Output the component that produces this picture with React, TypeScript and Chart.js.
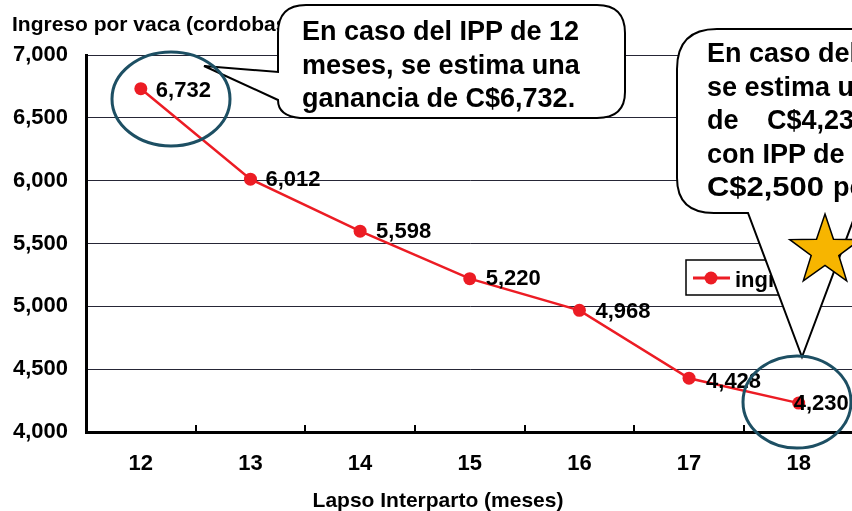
import React, { useEffect, useRef } from 'react';
import { Chart, registerables } from 'chart.js';

Chart.register(...registerables);

// ---- data ----
const categories = ['12', '13', '14', '15', '16', '17', '18'];
const ingresoPorVaca = [6732, 6012, 5598, 5220, 4968, 4428, 4230];
const yTickValues = [4000, 4500, 5000, 5500, 6000, 6500, 7000];
const seriesLabel = 'ingreso por vaca';
const yTitle = 'Ingreso por vaca (cordobas)';
const xTitle = 'Lapso Interparto (meses)';
const callout1Lines = ['En caso del IPP de 12', 'meses, se estima una', 'ganancia de C$6,732.'];
const callout2Lines = ['En caso del IPP de 18 meses,', 'se estima una ganancia', 'C$4,230, es decir', 'con IPP de 18 meses pierde', 'C$2,500', 'por vaca.'];

const FONT = "'Liberation Sans', Arial, Helvetica, sans-serif";
const RED = '#ec1c24';
const labelDx = [15, 15, 16, 16, 16, 17, -5];
const labelDy = [2, 1, 1, 0, 2, 4, 1];

const fmt = (v: number) => v.toLocaleString('en-US');

const dataLabelPlugin = {
  id: 'dataLabelPlugin',
  afterDatasetsDraw(chart: any) {
    const ctx = chart.ctx;
    const meta = chart.getDatasetMeta(0);
    const ds = chart.data.datasets[0];
    ctx.save();
    ctx.font = `bold 22px ${FONT}`;
    ctx.fillStyle = '#000';
    ctx.textAlign = 'left';
    ctx.textBaseline = 'middle';
    meta.data.forEach((pt: any, i: number) => {
      ctx.fillText(fmt(ds.data[i] as number), pt.x + labelDx[i], pt.y + labelDy[i]);
    });
    ctx.restore();
  },
};

const extrasPlugin = {
  id: 'extrasPlugin',
  afterDraw(chart: any) {
    const ctx = chart.ctx;
    const ds = chart.data.datasets[0];
    ctx.save();
    // axis titles
    ctx.fillStyle = '#000';
    ctx.textBaseline = 'alphabetic';
    ctx.textAlign = 'left';
    ctx.font = `bold 21px ${FONT}`;
    ctx.fillText(yTitle, 12, 31);
    ctx.textAlign = 'center';
    ctx.font = `bold 21px ${FONT}`;
    ctx.fillText(xTitle, 438, 507);
    // legend box (its right part is hidden by the callout pointer)
    const bx = 686, by = 260, bw = 104, bh = 35;
    ctx.fillStyle = '#fff';
    ctx.fillRect(bx, by, bw, bh);
    ctx.strokeStyle = '#000';
    ctx.lineWidth = 1.5;
    ctx.strokeRect(bx, by, bw, bh);
    ctx.strokeStyle = ds.borderColor;
    ctx.lineWidth = 3;
    ctx.beginPath();
    ctx.moveTo(693, 278);
    ctx.lineTo(730, 278);
    ctx.stroke();
    ctx.fillStyle = ds.pointBackgroundColor;
    ctx.beginPath();
    ctx.arc(711, 278, 6.5, 0, Math.PI * 2);
    ctx.fill();
    ctx.beginPath();
    ctx.rect(bx, by, bw, bh);
    ctx.clip();
    ctx.fillStyle = '#000';
    ctx.textAlign = 'left';
    ctx.font = `bold 22px ${FONT}`;
    ctx.fillText(ds.label, 735, 287);
    ctx.restore();
  },
};

function starPoints(cx: number, cy: number, R: number, r: number) {
  const pts: string[] = [];
  for (let i = 0; i < 10; i++) {
    const a = (-90 + i * 36) * (Math.PI / 180);
    const rad = i % 2 === 0 ? R : r;
    pts.push(`${(cx + rad * Math.cos(a)).toFixed(1)},${(cy + rad * Math.sin(a)).toFixed(1)}`);
  }
  return pts.join(' ');
}

export default function App() {
  const canvasRef = useRef<HTMLCanvasElement | null>(null);

  useEffect(() => {
    if (!canvasRef.current) return;
    const chart = new Chart(canvasRef.current, {
      type: 'line',
      data: {
        labels: categories,
        datasets: [
          {
            label: seriesLabel,
            data: ingresoPorVaca,
            borderColor: RED,
            backgroundColor: RED,
            pointBackgroundColor: RED,
            pointBorderColor: RED,
            pointBorderWidth: 0,
            pointRadius: 6.5,
            borderWidth: 2.5,
            tension: 0,
            clip: false as any,
          },
        ],
      },
      options: {
        animation: false,
        responsive: false,
        devicePixelRatio: 1,
        layout: { padding: { top: 55, left: 0, right: 6, bottom: 0 } },
        plugins: {
          legend: { display: false },
          tooltip: { enabled: false },
          title: { display: false },
        },
        scales: {
          x: {
            type: 'category',
            offset: true,
            afterFit: (s: any) => {
              s.height = 79;
            },
            grid: {
              display: true,
              drawOnChartArea: false,
              drawTicks: true,
              tickLength: -7,
              offset: true,
              color: '#000',
              lineWidth: 2,
            },
            border: { display: true, color: '#000', width: 3 },
            ticks: {
              color: '#000',
              padding: 26,
              font: { family: FONT, size: 22, weight: 'bold' },
              maxRotation: 0,
              autoSkip: false,
            },
          },
          y: {
            min: yTickValues[0],
            max: yTickValues[yTickValues.length - 1],
            afterFit: (s: any) => {
              s.width = 86;
            },
            afterBuildTicks: (s: any) => {
              s.ticks = yTickValues.map((v) => ({ value: v }));
            },
            grid: {
              display: true,
              drawTicks: false,
              color: '#262636',
              lineWidth: 1,
            },
            border: { display: true, color: '#000', width: 3 },
            ticks: {
              color: '#000',
              padding: 18,
              font: { family: FONT, size: 22, weight: 'bold' },
              callback: (v: any) => fmt(Number(v)),
            },
          },
        },
      },
      plugins: [dataLabelPlugin, extrasPlugin],
    });
    return () => chart.destroy();
  }, []);

  const textStyle = { fontFamily: FONT, fontWeight: 700, fontSize: 27, fill: '#000' } as any;
  const outline = '#1d4f63';

  return (
    <div
      style={{
        position: 'fixed',
        left: 0,
        top: 0,
        width: 852,
        height: 511,
        overflow: 'hidden',
        background: '#fff',
      }}
    >
      <canvas ref={canvasRef} width={860} height={511} style={{ display: 'block' }} />
      <svg
        width={852}
        height={511}
        style={{ position: 'absolute', left: 0, top: 0, pointerEvents: 'none' }}
      >
        {/* callout 1 */}
        <path
          d="M 306 5 H 597 Q 625 5 625 33 V 92 Q 625 118 597 118 H 300 Q 278 116 278 100 L 204 66 L 278 72 V 33 Q 278 5 306 5 Z"
          fill="#fff"
          stroke="#000"
          strokeWidth={2}
        />
        {callout1Lines.map((t, i) => (
          <text key={i} x={302} y={40 + i * 33.5} style={textStyle}>
            {t}
          </text>
        ))}
        {/* callout 2 (justified text, cut by the page edge) */}
        <path
          d="M 717 29 H 900 V 213 H 856 L 802 357 L 748 213 H 714 Q 677 213 677 178 V 69 Q 677 29 717 29 Z"
          fill="#fff"
          stroke="#000"
          strokeWidth={2}
        />
        <text x={707} y={62} style={textStyle}>{callout2Lines[0]}</text>
        <text x={707} y={95.5} style={textStyle}>{callout2Lines[1]}</text>
        <text x={707} y={129} style={textStyle}>de</text>
        <text x={767} y={129} style={textStyle}>{callout2Lines[2]}</text>
        <text x={707} y={162.5} style={textStyle}>{callout2Lines[3]}</text>
        <text x={707} y={196} style={textStyle} textLength={117} lengthAdjust="spacingAndGlyphs">
          {callout2Lines[4]}
        </text>
        <text x={833} y={196} style={textStyle}>{callout2Lines[5]}</text>
        {/* highlight ellipses */}
        <ellipse cx={171} cy={99} rx={59} ry={47} fill="none" stroke={outline} strokeWidth={3} />
        <ellipse cx={797} cy={402} rx={54} ry={46} fill="none" stroke={outline} strokeWidth={3} />
        {/* star */}
        <polygon points={starPoints(825, 251, 37, 14.5)} fill="#f7b500" stroke="#000" strokeWidth={1.5} />
      </svg>
    </div>
  );
}
